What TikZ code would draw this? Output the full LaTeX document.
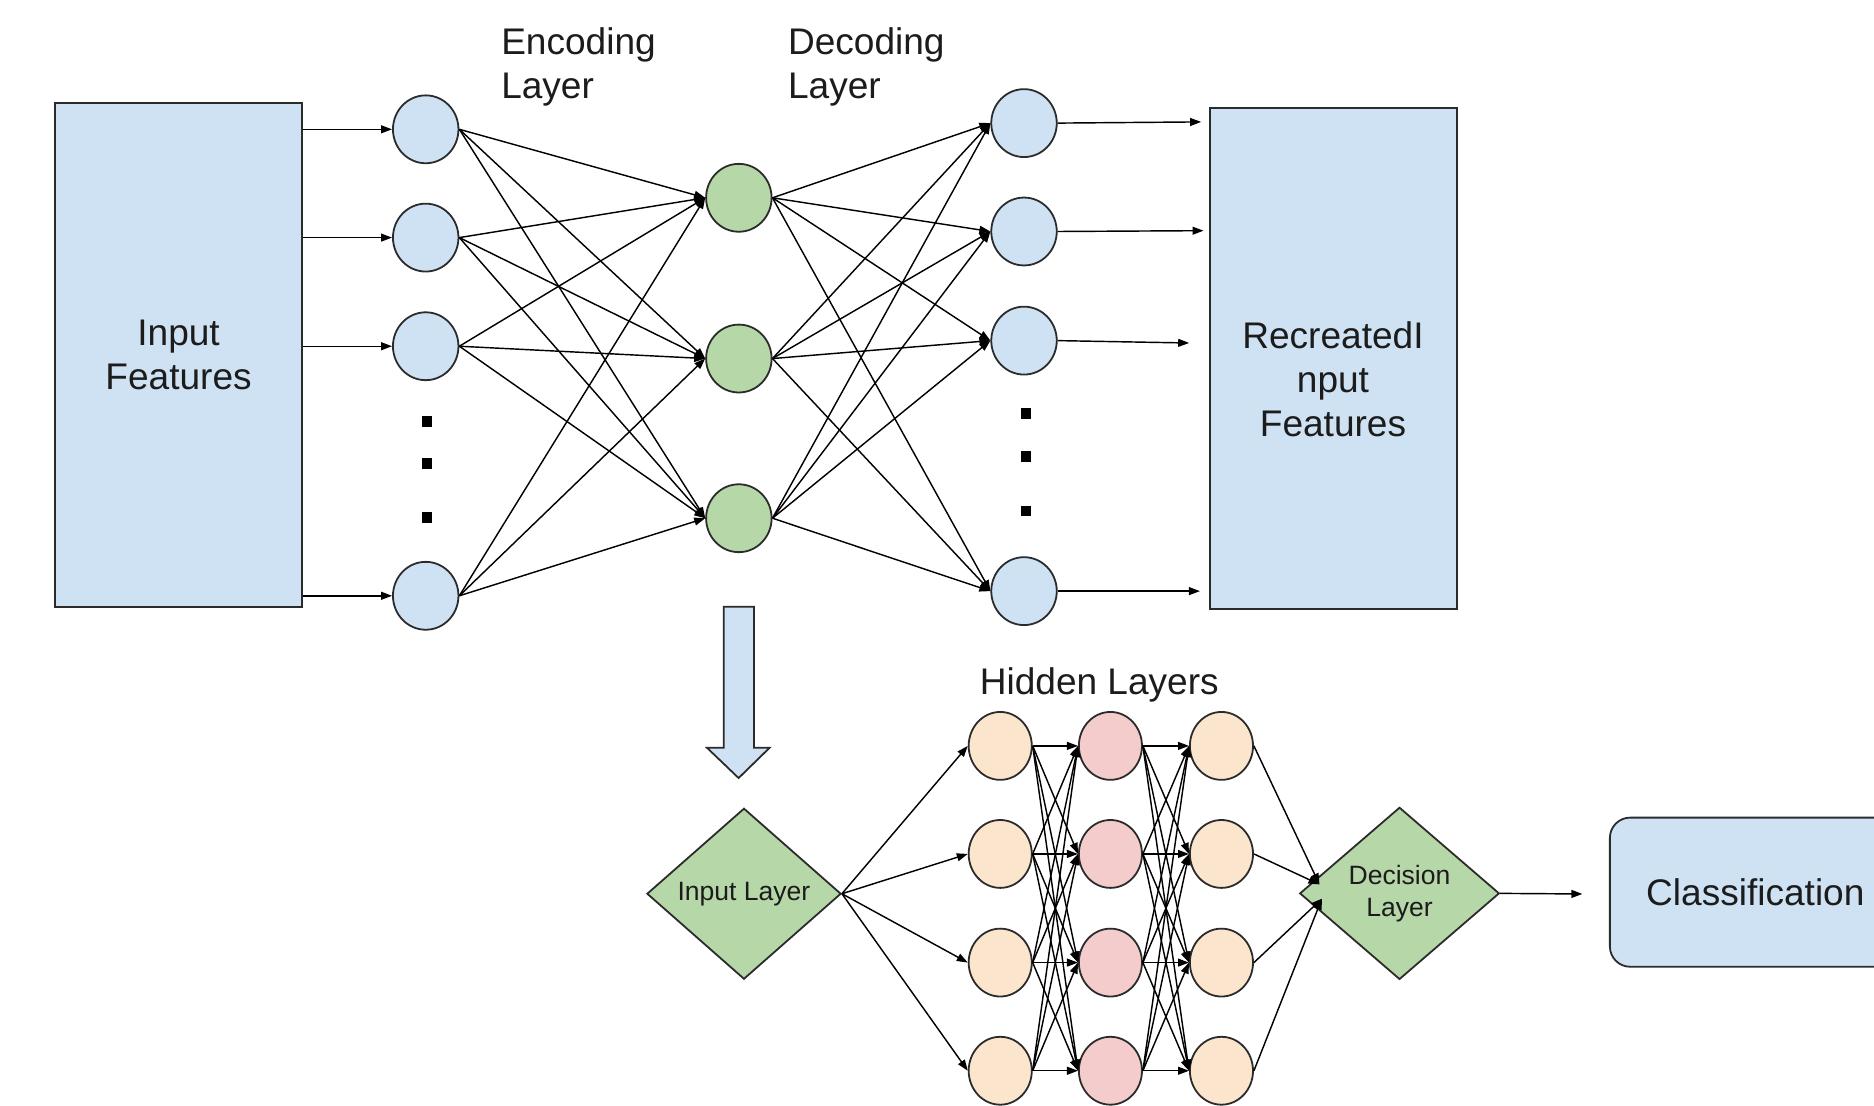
\documentclass[tikz,border=0pt]{standalone}
\usepackage{fontspec}
\setmainfont{Liberation Sans}
\usetikzlibrary{shapes.geometric,arrows.meta}

\definecolor{boxblue}{HTML}{CFE2F3}
\definecolor{nodegreen}{HTML}{B6D7A8}
\definecolor{peach}{HTML}{FCE5CD}
\definecolor{rose}{HTML}{F4CCCC}
\definecolor{edge}{HTML}{2B2B2B}
\definecolor{ink}{HTML}{1C1C1C}

\tikzset{
  bigfont/.style={font=\fontsize{15.5pt}{18.5pt}\selectfont, text=ink},
  smallfont/.style={font=\fontsize{11.1pt}{13.3pt}\selectfont, text=ink},
  outline/.style={draw=edge, line width=0.75pt},
  featurebox/.style={outline, rectangle, fill=boxblue, inner sep=0pt},
  neuron/.style={outline, ellipse, inner sep=0pt, minimum width=27.4pt, minimum height=28.4pt},
  blueunit/.style={neuron, fill=boxblue},
  greenunit/.style={neuron, fill=nodegreen},
  hiddenunit/.style={neuron, minimum width=26.4pt, minimum height=28.4pt},
  layerdiamond/.style={outline, diamond, fill=nodegreen, inner sep=0pt, smallfont, align=center},
  ellipsisdot/.style={rectangle, fill=black, inner sep=0pt, minimum width=4pt, minimum height=4.4pt},
  conn/.style={draw=black, line width=0.6pt, -{Triangle[length=4.6pt,width=3.3pt]}},
  blockarrow/.style={outline, fill=boxblue, line join=miter},
}

\begin{document}
\begin{tikzpicture}[x=0.5pt,y=-0.5pt]
  \useasboundingbox (0,0) rectangle (1568,925);
  \clip (0,0) rectangle (1568,925);
  \fill[white] (0,0) rectangle (1568,925);

  % ---------- autoencoder ----------
  \node[featurebox, bigfont, align=center, minimum width=103.3pt, minimum height=210.9pt]
    (inbox) at (149.4,297.2) {Input\\Features};

  \node[featurebox, minimum width=103.5pt, minimum height=209.6pt] (recbox) at (1115.8,299.8) {};
  \node[bigfont, align=center, inner sep=0pt] (rectext) at (1115.3,317.4) {RecreatedI\\nput\\Features};

  \node[bigfont, align=left, anchor=west, inner sep=0pt] (enclab) at (419,56) {Encoding\\Layer};
  \node[bigfont, align=left, anchor=west, inner sep=0pt] (declab) at (659,56) {Decoding\\Layer};

  % encoding column
  \node[blueunit] (e1) at (356.2,108.2) {};
  \node[blueunit] (e2) at (356.2,198.8) {};
  \node[blueunit] (e3) at (356.2,289.7) {};
  \node[blueunit] (e4) at (356.2,498.5) {};
  \node[ellipsisdot] (ldot1) at (357.5,352.8) {};
  \node[ellipsisdot] (ldot2) at (357.5,387.8) {};
  \node[ellipsisdot] (ldot3) at (357.5,432.9) {};

  % bottleneck
  \node[greenunit] (g1) at (618.2,165.5) {};
  \node[greenunit] (g2) at (618.2,300.0) {};
  \node[greenunit] (g3) at (618.2,433.6) {};

  % decoding column
  \node[blueunit] (d1) at (856.8,103.0) {};
  \node[blueunit] (d2) at (856.8,193.7) {};
  \node[blueunit] (d3) at (856.8,285.0) {};
  \node[blueunit] (d4) at (856.8,494.6) {};
  \node[ellipsisdot] (rdot1) at (858.5,346.0) {};
  \node[ellipsisdot] (rdot2) at (858.5,382.0) {};
  \node[ellipsisdot] (rdot3) at (858.5,427.6) {};

  \coordinate (t1) at (1005,102);
  \coordinate (t2) at (1007,193);
  \coordinate (t3) at (995,287);
  \coordinate (t4) at (1004,494.6);

  \foreach \i in {1,...,4}
    \draw[conn] (inbox.east |- e\i) -- (e\i.west);
  \foreach \i in {1,...,4}
    \foreach \j in {1,2,3}
      \draw[conn] (e\i.east) -- (g\j.west);
  \foreach \j in {1,2,3}
    \foreach \k in {1,...,4}
      \draw[conn] (g\j.east) -- (d\k.west);
  \foreach \i in {1,...,4}
    \draw[conn] (d\i.east) -- (t\i);

  % hand-over arrow to the classifier
  \draw[blockarrow] (605.5,507.7) -- (630.9,507.7) -- (630.9,625.7) -- (643.9,625.7)
    -- (618,651) -- (591.6,625.7) -- (605.5,625.7) -- cycle;

  % ---------- classifier ----------
  \node[bigfont, inner sep=0pt] (hidlab) at (919.8,573.4) {Hidden Layers};

  \node[layerdiamond, minimum width=81.2pt, minimum height=71.5pt] (inl) at (622.5,747.8) {Input Layer};
  \node[layerdiamond, minimum width=83.5pt, minimum height=72pt] (dec) at (1171,747.5) {Decision\\Layer};

  \foreach \k/\y in {1/624.1,2/714.5,3/805.4,4/895.9} {
    \node[hiddenunit, fill=peach] (ha\k) at (836.9,\y) {};
    \node[hiddenunit, fill=rose]  (hb\k) at (929.1,\y) {};
    \node[hiddenunit, fill=peach] (hc\k) at (1022,\y) {};
  }

  \node[outline, rectangle, rounded corners=8.5pt, fill=boxblue, bigfont,
        minimum width=121.7pt, minimum height=62.4pt] (cls) at (1468.7,746.5) {Classification};

  \coordinate (decin1) at (1104,740);
  \coordinate (decin2) at (1106,752);
  \coordinate (clsin) at (1324,748);

  \foreach \k in {1,...,4}
    \draw[conn] (inl.east) -- (ha\k.west);
  \foreach \i in {1,...,4}
    \foreach \k in {1,...,4} {
      \draw[conn] (ha\i.east) -- (hb\k.west);
      \draw[conn] (hb\i.east) -- (hc\k.west);
    }
  \draw[conn] (hc1.east) -- (decin1);
  \draw[conn] (hc2.east) -- (decin1);
  \draw[conn] (hc3.east) -- (decin2);
  \draw[conn] (hc4.east) -- (decin2);
  \draw[conn] (dec.east) -- (clsin);
\end{tikzpicture}
\end{document}
